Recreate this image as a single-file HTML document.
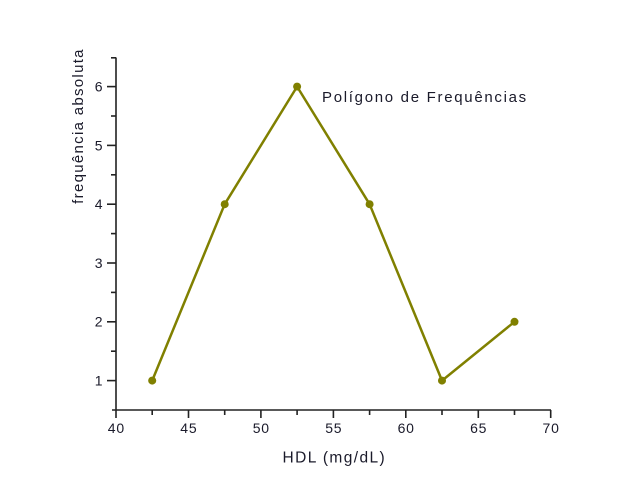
<!DOCTYPE html>
<html><head><meta charset="utf-8"><style>
html,body{margin:0;padding:0;background:#fff;}
svg{display:block;}
text{font-family:"Liberation Sans",Arial,sans-serif;fill:#1a1a2a;}
</style></head><body>
<svg width="640" height="491" viewBox="0 0 640 491" xmlns="http://www.w3.org/2000/svg">
<rect width="640" height="491" fill="#fff"/>
<g stroke="#222" stroke-width="1.6" fill="none">
<line x1="116" y1="57.5" x2="116" y2="410"/>
<line x1="112" y1="410" x2="551" y2="410"/>
<line x1="107" y1="380.6" x2="116" y2="380.6"/>
<line x1="107" y1="321.8" x2="116" y2="321.8"/>
<line x1="107" y1="263" x2="116" y2="263"/>
<line x1="107" y1="204.2" x2="116" y2="204.2"/>
<line x1="107" y1="145.4" x2="116" y2="145.4"/>
<line x1="107" y1="86.6" x2="116" y2="86.6"/>
<line x1="111" y1="351.2" x2="116" y2="351.2"/>
<line x1="111" y1="292.4" x2="116" y2="292.4"/>
<line x1="111" y1="233.6" x2="116" y2="233.6"/>
<line x1="111" y1="174.8" x2="116" y2="174.8"/>
<line x1="111" y1="116" x2="116" y2="116"/>
<line x1="111" y1="57.8" x2="116" y2="57.8"/>
<line x1="116" y1="410" x2="116" y2="418"/>
<line x1="188.5" y1="410" x2="188.5" y2="418"/>
<line x1="260.9" y1="410" x2="260.9" y2="418"/>
<line x1="333.4" y1="410" x2="333.4" y2="418"/>
<line x1="405.8" y1="410" x2="405.8" y2="418"/>
<line x1="478.3" y1="410" x2="478.3" y2="418"/>
<line x1="550.7" y1="410" x2="550.7" y2="418"/>
<line x1="152.2" y1="410" x2="152.2" y2="415"/>
<line x1="224.7" y1="410" x2="224.7" y2="415"/>
<line x1="297.1" y1="410" x2="297.1" y2="415"/>
<line x1="369.6" y1="410" x2="369.6" y2="415"/>
<line x1="442" y1="410" x2="442" y2="415"/>
<line x1="514.5" y1="410" x2="514.5" y2="415"/>
</g>
<g font-size="14" text-anchor="end">
<text x="102.5" y="385.5">1</text>
<text x="102.5" y="326.7">2</text>
<text x="102.5" y="267.9">3</text>
<text x="102.5" y="209.1">4</text>
<text x="102.5" y="150.3">5</text>
<text x="102.5" y="91.5">6</text>
</g>
<g font-size="14" text-anchor="middle" letter-spacing="0.8">
<text x="116.4" y="433">40</text>
<text x="188.9" y="433">45</text>
<text x="261.3" y="433">50</text>
<text x="333.8" y="433">55</text>
<text x="406.2" y="433">60</text>
<text x="478.7" y="433">65</text>
<text x="551.1" y="433">70</text>
</g>
<text x="334.3" y="462.5" font-size="15.5" text-anchor="middle" letter-spacing="1.4">HDL (mg/dL)</text>
<text transform="translate(83,126) rotate(-90)" font-size="15" text-anchor="middle" letter-spacing="1.3">frequência absoluta</text>
<text x="322" y="102" font-size="15" letter-spacing="1.7">Polígono de Frequências</text>
<polyline points="152.2,380.6 224.7,204.2 297.1,86.6 369.6,204.2 442,380.6 514.5,321.8" fill="none" stroke="#808000" stroke-width="2.5" stroke-linejoin="round"/>
<g fill="#808000">
<circle cx="152.2" cy="380.6" r="4"/>
<circle cx="224.7" cy="204.2" r="4"/>
<circle cx="297.1" cy="86.6" r="4"/>
<circle cx="369.6" cy="204.2" r="4"/>
<circle cx="442" cy="380.6" r="4"/>
<circle cx="514.5" cy="321.8" r="4"/>
</g>
</svg>
</body></html>
